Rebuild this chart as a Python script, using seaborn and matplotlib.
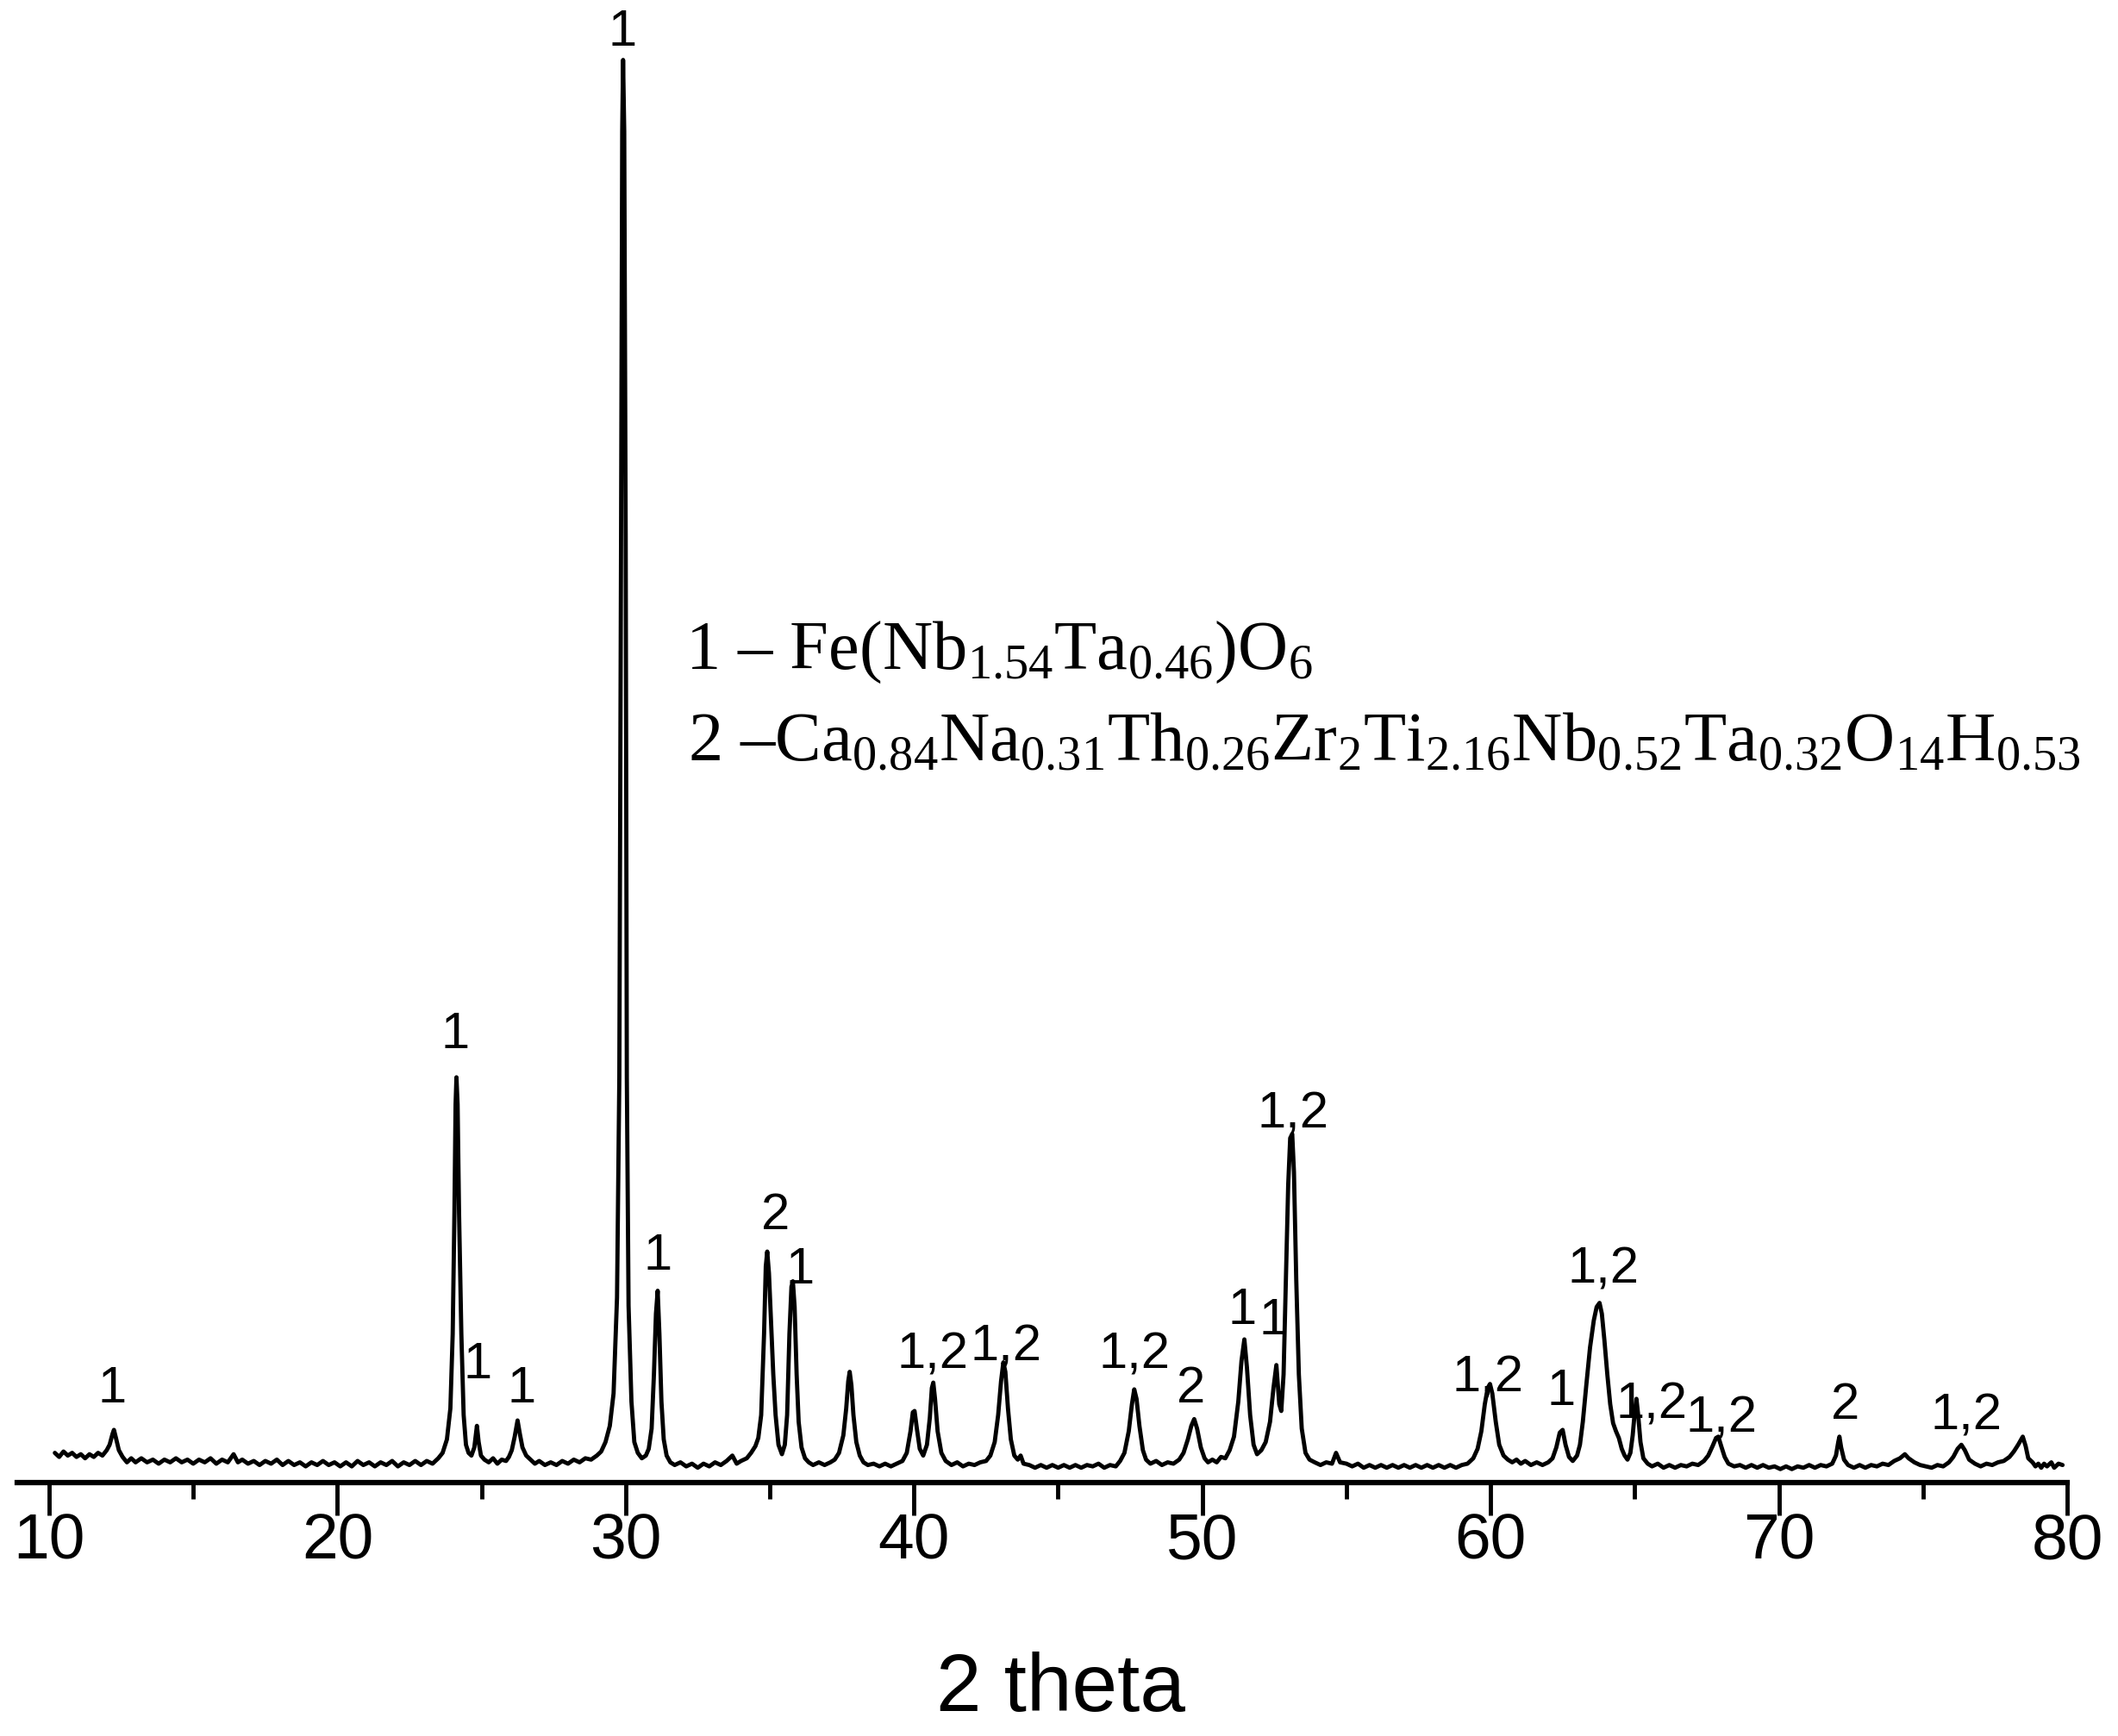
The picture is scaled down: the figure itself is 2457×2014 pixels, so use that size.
import matplotlib
matplotlib.use("Agg")
import matplotlib.pyplot as plt
import seaborn as sns
import numpy as np

# ---------------- data ----------------
two_theta = [
    10.20, 10.35, 10.50, 10.65, 10.80, 10.95, 11.10, 11.25, 11.40, 11.55, 11.70, 11.85,
    12.00, 12.10, 12.20, 12.25, 12.32, 12.42, 12.55, 12.70, 12.85, 13.00, 13.20, 13.40,
    13.60, 13.80, 14.00, 14.20, 14.40, 14.60, 14.80, 15.00, 15.20, 15.40, 15.60, 15.80,
    16.00, 16.20, 16.40, 16.55, 16.70, 16.90, 17.10, 17.30, 17.50, 17.70, 17.90, 18.10,
    18.30, 18.50, 18.70, 18.90, 19.10, 19.30, 19.50, 19.70, 19.90, 20.10, 20.30, 20.50,
    20.70, 20.90, 21.10, 21.30, 21.50, 21.70, 21.90, 22.10, 22.30, 22.50, 22.70, 22.90,
    23.10, 23.30, 23.50, 23.65, 23.80, 23.92, 24.00, 24.06, 24.10, 24.13, 24.17, 24.22,
    24.30, 24.38, 24.46, 24.55, 24.65, 24.75, 24.84, 24.90, 24.98, 25.10, 25.25, 25.40,
    25.55, 25.70, 25.85, 25.95, 26.05, 26.15, 26.25, 26.33, 26.42, 26.55, 26.70, 26.85,
    27.00, 27.20, 27.40, 27.60, 27.80, 28.00, 28.20, 28.40, 28.60, 28.80, 29.00, 29.15,
    29.30, 29.45, 29.58, 29.70, 29.78, 29.84, 29.88, 29.91, 29.95, 30.00, 30.04, 30.10,
    30.20, 30.30, 30.42, 30.56, 30.70, 30.80, 30.90, 30.98, 31.05, 31.11, 31.17, 31.24,
    31.32, 31.42, 31.55, 31.70, 31.90, 32.10, 32.30, 32.50, 32.70, 32.90, 33.10, 33.30,
    33.50, 33.70, 33.85, 34.00, 34.20, 34.35, 34.50, 34.60, 34.70, 34.80, 34.86, 34.91,
    34.97, 35.04, 35.12, 35.20, 35.30, 35.42, 35.52, 35.60, 35.68, 35.75, 35.80, 35.86,
    35.93, 36.00, 36.10, 36.22, 36.35, 36.50, 36.70, 36.90, 37.10, 37.25, 37.40, 37.55,
    37.65, 37.72, 37.77, 37.83, 37.90, 38.00, 38.12, 38.25, 38.40, 38.60, 38.80, 39.00,
    39.20, 39.40, 39.60, 39.75, 39.88, 39.96, 40.02, 40.10, 40.20, 40.32, 40.45, 40.55,
    40.62, 40.67, 40.73, 40.82, 40.95, 41.10, 41.30, 41.50, 41.70, 41.90, 42.10, 42.30,
    42.50, 42.65, 42.80, 42.92, 43.02, 43.10, 43.17, 43.26, 43.36, 43.48, 43.60, 43.70,
    43.80, 44.00, 44.20, 44.40, 44.60, 44.80, 45.00, 45.20, 45.40, 45.60, 45.80, 46.00,
    46.20, 46.40, 46.60, 46.80, 47.00, 47.15, 47.30, 47.45, 47.56, 47.64, 47.72, 47.82,
    47.94, 48.05, 48.20, 48.40, 48.60, 48.80, 49.00, 49.20, 49.35, 49.50, 49.62, 49.72,
    49.82, 49.95, 50.08, 50.20, 50.35, 50.50, 50.65, 50.80, 50.95, 51.10, 51.25, 51.36,
    51.46, 51.55, 51.66, 51.78, 51.90, 52.05, 52.20, 52.35, 52.47, 52.57, 52.67, 52.74,
    52.82, 52.90, 52.98, 53.05, 53.12, 53.18, 53.26, 53.35, 53.45, 53.58, 53.72, 53.90,
    54.10, 54.30, 54.50, 54.64, 54.78, 55.00, 55.20, 55.40, 55.60, 55.80, 56.00, 56.20,
    56.40, 56.60, 56.80, 57.00, 57.20, 57.40, 57.60, 57.80, 58.00, 58.20, 58.40, 58.60,
    58.80, 59.00, 59.20, 59.40, 59.55, 59.68, 59.80, 59.90, 59.98, 60.06, 60.18, 60.30,
    60.45, 60.60, 60.75, 60.90, 61.05, 61.20, 61.40, 61.60, 61.80, 62.00, 62.15, 62.28,
    62.40, 62.50, 62.60, 62.72, 62.85, 63.00, 63.10, 63.20, 63.32, 63.45, 63.58, 63.68,
    63.78, 63.86, 63.95, 64.05, 64.15, 64.25, 64.35, 64.45, 64.55, 64.65, 64.75, 64.85,
    64.93, 65.00, 65.06, 65.12, 65.20, 65.30, 65.45, 65.60, 65.80, 66.00, 66.20, 66.40,
    66.60, 66.80, 67.00, 67.20, 67.40, 67.55, 67.70, 67.82, 67.90, 68.00, 68.12, 68.25,
    68.45, 68.65, 68.85, 69.05, 69.25, 69.45, 69.65, 69.85, 70.05, 70.25, 70.45, 70.65,
    70.85, 71.05, 71.25, 71.45, 71.65, 71.85, 71.98, 72.06, 72.10, 72.16, 72.26, 72.40,
    72.60, 72.80, 73.00, 73.20, 73.40, 73.60, 73.80, 74.00, 74.20, 74.37, 74.50, 74.70,
    74.90, 75.10, 75.30, 75.50, 75.70, 75.90, 76.05, 76.20, 76.33, 76.45, 76.60, 76.80,
    77.00, 77.20, 77.40, 77.60, 77.80, 78.00, 78.15, 78.30, 78.46, 78.56, 78.65, 78.80,
    78.90, 79.00, 79.10, 79.20, 79.30, 79.45, 79.55, 79.70, 79.84,
]

intensity = [
    22, 19, 23, 20, 22, 19, 21, 18, 21, 19, 22, 20,
    24, 28, 36, 39, 33, 24, 19, 15, 18, 15, 18, 15,
    17, 14, 17, 15, 18, 15, 17, 14, 17, 15, 18, 14,
    17, 15, 21, 15, 17, 14, 16, 13, 16, 14, 17, 13,
    16, 13, 15, 12, 15, 13, 16, 13, 15, 12, 15, 12,
    16, 13, 15, 12, 15, 13, 16, 12, 15, 13, 16, 13,
    16, 14, 18, 22, 32, 55, 110, 200, 280, 300, 280, 200,
    110, 50, 28, 22, 20, 26, 42, 30, 20, 17, 15, 18,
    14, 17, 16, 19, 24, 34, 46, 36, 26, 20, 17, 14,
    16, 13, 15, 13, 16, 14, 17, 15, 18, 17, 20, 23,
    30, 42, 66, 137, 300, 700, 1000, 1053, 1000, 700, 300, 131,
    60, 30, 22, 18, 20, 25, 40, 80, 125, 142, 110, 60,
    32, 20, 15, 13, 15, 12, 14, 11, 14, 12, 15, 13,
    16, 20, 14, 16, 18, 22, 27, 33, 50, 110, 160, 171,
    155, 120, 80, 50, 28, 21, 28, 50, 110, 145, 149, 130,
    80, 45, 26, 18, 15, 13, 15, 13, 15, 17, 22, 35,
    55, 75, 82, 72, 50, 30, 20, 15, 13, 14, 12, 14,
    12, 14, 16, 22, 38, 52, 53, 40, 25, 20, 28, 48,
    70, 74, 62, 38, 22, 16, 13, 15, 12, 14, 13, 15,
    16, 20, 30, 50, 75, 89, 82, 55, 32, 20, 17, 20,
    14, 13, 11, 13, 11, 13, 11, 13, 11, 13, 11, 13,
    12, 14, 11, 13, 12, 16, 22, 38, 58, 69, 62, 42,
    24, 17, 14, 16, 13, 15, 14, 17, 22, 32, 42, 47,
    40, 26, 18, 15, 17, 15, 19, 18, 24, 34, 60, 90,
    106, 85, 50, 28, 21, 24, 30, 45, 70, 87, 58, 53,
    80, 150, 220, 255, 258, 230, 150, 80, 40, 22, 17, 15,
    13, 15, 14, 22, 15, 14, 12, 14, 11, 13, 11, 13,
    11, 13, 11, 13, 11, 13, 11, 13, 11, 13, 11, 13,
    11, 13, 14, 18, 25, 38, 58, 70, 73, 66, 45, 28,
    20, 17, 15, 17, 14, 16, 13, 15, 13, 15, 18, 26,
    37, 39, 28, 19, 16, 20, 28, 45, 72, 100, 120, 130,
    133, 125, 105, 80, 58, 44, 38, 33, 25, 20, 17, 22,
    35, 52, 62, 50, 30, 18, 14, 12, 14, 11, 13, 11,
    13, 12, 14, 13, 16, 20, 27, 33, 34, 27, 19, 14,
    12, 13, 11, 13, 11, 13, 11, 12, 10, 12, 10, 12,
    11, 13, 11, 13, 12, 14, 20, 30, 34, 26, 17, 13,
    11, 13, 11, 13, 12, 14, 13, 16, 18, 21, 18, 15,
    13, 12, 11, 13, 12, 15, 19, 25, 28, 24, 17, 14,
    12, 14, 13, 15, 16, 19, 23, 28, 34, 27, 18, 15,
    12, 14, 11, 14, 12, 15, 11, 14, 13,
]

# peak annotations: label, 2theta position, label height (a.u.)
peak_labels = ["1", "1", "1", "1", "1", "1", "2", "1", "1,2", "1,2", "1,2", "2",
               "1", "1", "1,2", "1,2", "1", "1,2", "1,2", "1,2", "2", "1,2"]
peak_label_x = [12.2, 24.1, 24.86, 26.4, 29.88, 31.1, 35.2, 36.05, 40.65, 43.2, 47.65, 49.6,
                51.4, 52.45, 53.15, 59.9, 62.45, 63.9, 65.6, 68.0, 72.3, 76.5]
peak_label_y = [70, 332, 88, 70, 1074, 168, 198, 158, 95, 101, 95, 70,
                128, 120, 273, 78, 68, 158, 58, 48, 58, 50]

phase_labels = [r"1 – Fe(Nb$_{1.54}$Ta$_{0.46}$)O$_{6}$",
                r"2 –Ca$_{0.84}$Na$_{0.31}$Th$_{0.26}$Zr$_{2}$Ti$_{2.16}$Nb$_{0.52}$"
                r"Ta$_{0.32}$O$_{14}$H$_{0.53}$"]

x_ticks_major = [10, 20, 30, 40, 50, 60, 70, 80]
x_ticks_minor = [15, 25, 35, 45, 55, 65, 75]
x_label = "2 theta"

# ---------------- style ----------------
sns.set_theme(style="white")
plt.rcParams["font.family"] = ["Liberation Sans", "DejaVu Sans"]
plt.rcParams["text.color"] = "black"
plt.rcParams["axes.labelcolor"] = "black"
plt.rcParams["xtick.color"] = "black"
plt.rcParams["xtick.labelcolor"] = "black"
plt.rcParams["mathtext.fontset"] = "custom"
plt.rcParams["mathtext.rm"] = "Liberation Serif"
plt.rcParams["mathtext.it"] = "Liberation Serif"
plt.rcParams["mathtext.bf"] = "Liberation Serif"

fig = plt.figure(figsize=(24.57, 20.15), dpi=100)
ax = fig.add_axes([0.0082, 0.1459, 0.9678, 0.8541])

sns.lineplot(x=two_theta, y=intensity, ax=ax, color="black", linewidth=3.5,
             estimator=None, sort=False)

ax.set_xlim(8.9, 80)
ax.set_ylim(0, 1098)

for s in ["left", "right", "top"]:
    ax.spines[s].set_visible(False)
ax.spines["bottom"].set_linewidth(4.5)
ax.spines["bottom"].set_color("black")

ax.set_xticks(x_ticks_major)
ax.set_xticks(x_ticks_minor, minor=True)
ax.set_yticks([])
ax.tick_params(axis="x", which="major", direction="out", length=27, width=3.5,
               color="black", labelsize=54, pad=-3, bottom=True, labelcolor="black")
ax.tick_params(axis="x", which="minor", direction="out", length=14, width=3.5,
               color="black", bottom=True)
ax.set_xlabel(x_label, fontsize=68, labelpad=67, color="black")
ax.xaxis.label.set_x(0.509)

for lab, lx, ly in zip(peak_labels, peak_label_x, peak_label_y):
    ax.text(lx, ly, lab, ha="center", va="center", fontsize=43, color="black")

ax.text(0.326, 0.549, phase_labels[0], transform=ax.transAxes, fontsize=58,
        family="Liberation Serif", va="baseline", ha="left", color="black")
ax.text(0.327, 0.487, phase_labels[1], transform=ax.transAxes, fontsize=58,
        family="Liberation Serif", va="baseline", ha="left", color="black")

fig.savefig("out.png", dpi=100, facecolor="white")
